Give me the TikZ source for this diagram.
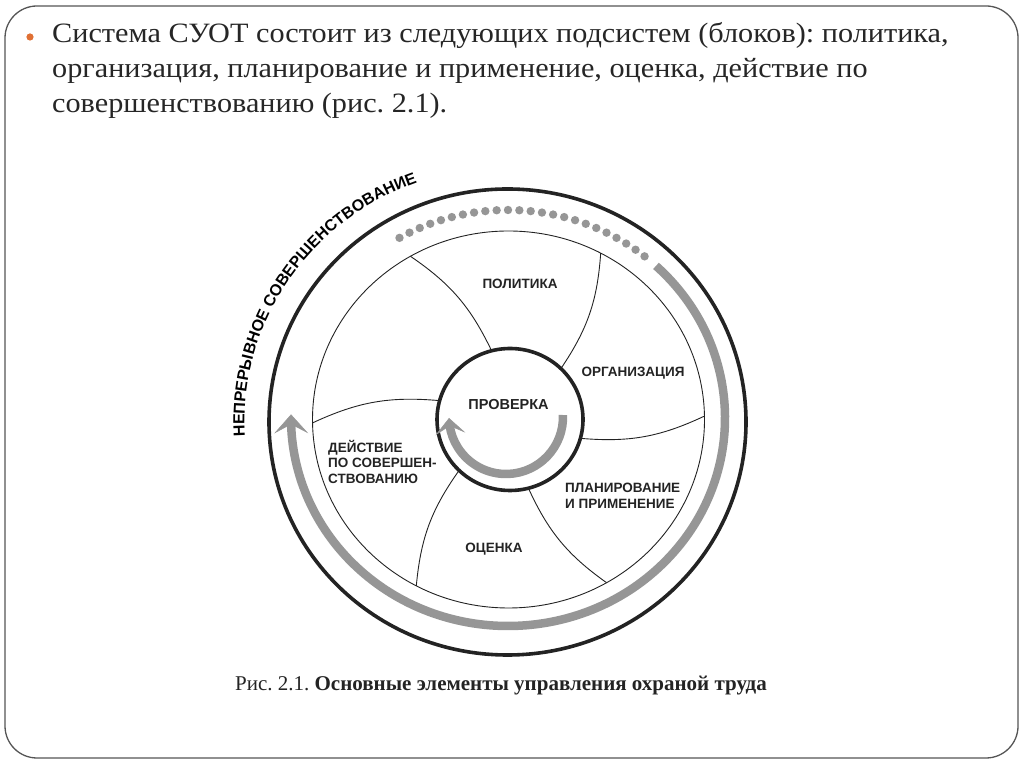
\documentclass[tikz,border=0pt]{standalone}
\usepackage{fontspec}
\setmainfont{Liberation Serif}
\newfontfamily\headfont[FakeStretch=1.08]{Liberation Serif}
\newfontfamily\labelfont{Liberation Sans}
\usetikzlibrary{positioning,calc,shapes.geometric,arrows.meta,bending,decorations.text}
\frenchspacing

\definecolor{framegray}{RGB}{85,85,85}
\definecolor{bulletorange}{RGB}{224,112,52}
\definecolor{flowgray}{RGB}{150,150,150}
\definecolor{ink}{RGB}{35,35,35}

\tikzset{
  headline/.style={anchor=base west, inner sep=0pt, font=\headfont\fontsize{28}{34}\selectfont, text=black!85},
  sector/.style={inner sep=0pt, align=left, text=ink, font=\labelfont\bfseries\fontsize{13.5}{15.5}\selectfont},
  wheel/.style={draw=ink, ellipse, inner sep=0pt, outer sep=0pt},
  spoke/.style={ink, line width=0.9pt},
  flow/.style={flowgray, line width=8.5pt},
}
\newcommand\arcfont{\labelfont\bfseries\fontsize{16}{19}\selectfont}

\begin{document}
\begin{tikzpicture}[x=1pt,y=1pt]
    \useasboundingbox (0,0) rectangle (1024,767);
    \draw[framegray, line width=1.3pt, rounded corners=32pt] (5,9) rectangle (1018,761);

    % heading
    \fill[bulletorange] (30,730) circle (3.6);
    \node[headline] (line1) at (52,724.3) {Система СУОТ состоит из следующих подсистем (блоков): политика,};
    \node[headline] (line2) at (52,689.6) {организация, планирование и применение, оценка, действие по};
    \node[headline] (line3) at (52,654.9) {совершенствованию (рис. 2.1).};

    % wheel
    \node[wheel, line width=3.6pt, minimum width=477pt, minimum height=466pt] (rim) at (507.5,345) {};
    \node[wheel, line width=0.9pt, minimum width=392pt, minimum height=377pt] (ring) at (508.5,347.5) {};
    \node[wheel, line width=3.6pt, minimum width=146pt, minimum height=142pt] (hub) at (510,347.5) {};
    \foreach \a [evaluate=\a as \b using int(\a+16)] in {45,105,...,345}
        \draw[spoke] (hub.\a) to[bend right=15] (ring.\b);

    % improvement cycle
    \coordinate (G) at (508,349); \coordinate (H) at (506,350);
    \foreach \a in {51,54,...,120} \fill[flowgray] ($(G)+(\a:217 and 208)$) circle (4.2);
    \draw[flow, -{Stealth[length=19pt, width=34pt, inset=9pt, line width=0.5pt]}] ($(G)+(47:217 and 208)$)
        arc[start angle=47, end angle=-181, x radius=217, y radius=208];
    \draw[flow, -{Stealth[length=16pt, width=30pt, inset=8pt, line width=0.5pt]}] ($(H)+(2:57)$)
        arc[start angle=2, end angle=-179, radius=57];
    \path[decorate, decoration={text along path, text align=center,
        text={|\arcfont|НЕПРЕРЫВНОЕ СОВЕРШЕНСТВОВАНИЕ}}]
        ($(rim.center)+(190:263 and 255)$) arc[start angle=190, end angle=103.5, x radius=263, y radius=255];

    % sectors
    \node[sector] (policy) at (520,483) {ПОЛИТИКА};
    \node[sector] (org) at (633,394) {ОРГАНИЗАЦИЯ};
    \node[sector, font=\labelfont\bfseries\fontsize{14.5}{17}\selectfont] (check) at (508.5,362) {ПРОВЕРКА};
    \node[sector, anchor=west] (act) at (328,305.5) {ДЕЙСТВИЕ\\ПО СОВЕРШЕН-\\СТВОВАНИЮ};
    \node[sector, anchor=west] (plan) at (565,271) {ПЛАНИРОВАНИЕ\\И ПРИМЕНЕНИЕ};
    \node[sector] (eval) at (494,218) {ОЦЕНКА};

    \node[text=ink, font=\fontsize{21}{24}\selectfont] (fig) at (501,81) {Рис. 2.1. \textbf{Основные элементы управления охраной труда}};
\end{tikzpicture}
\end{document}
